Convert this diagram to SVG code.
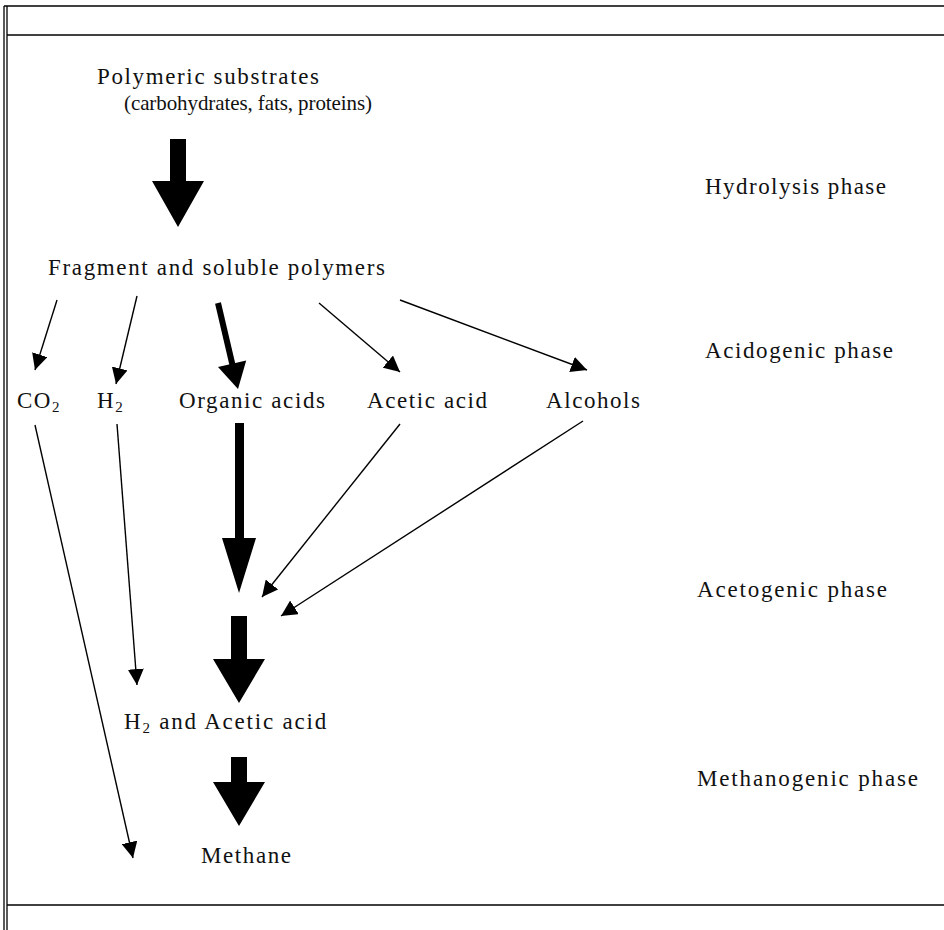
<svg xmlns="http://www.w3.org/2000/svg" width="944" height="930" viewBox="0 0 944 930">
<style>
text{font-family:"Liberation Serif","Times New Roman",serif;font-size:23px;fill:#111}
.sub{font-size:15px}
.frame{stroke:#000;stroke-width:1.3;fill:none}
.thin{stroke:#000;stroke-width:1.4;fill:none}
.block{fill:#000}
</style>
<defs>
<marker id="ah" markerUnits="userSpaceOnUse" viewBox="0 0 16 16" refX="16" refY="8" markerWidth="16" markerHeight="16" orient="auto">
<path d="M0,0 L16,8 L0,16 Z" fill="#000"/>
</marker>
</defs>
<g id="frame" class="frame">
<line x1="4" y1="6" x2="4" y2="930"/>
<line x1="7" y1="6" x2="7" y2="930"/>
<line x1="4" y1="6" x2="944" y2="6"/>
<line x1="7" y1="35" x2="944" y2="35"/>
<line x1="7" y1="905" x2="944" y2="905"/>
</g>
<g id="connectors">
<polygon class="block" points="170,139 186,139 186,181 204,181 178,227 152,181 170,181"/>
<line class="thin" x1="57" y1="300" x2="35" y2="370" marker-end="url(#ah)"/>
<line class="thin" x1="137" y1="296" x2="116" y2="384" marker-end="url(#ah)"/>
<line x1="218" y1="303" x2="232.5" y2="365" stroke="#000" stroke-width="6"/>
<polygon class="block" points="246.2,360.4 238,389 218,367"/>
<line class="thin" x1="319" y1="303" x2="400" y2="372" marker-end="url(#ah)"/>
<line class="thin" x1="400" y1="300" x2="587" y2="370" marker-end="url(#ah)"/>
<line class="thin" x1="35" y1="425" x2="133" y2="858" marker-end="url(#ah)"/>
<line class="thin" x1="117" y1="424" x2="137" y2="685" marker-end="url(#ah)"/>
<polygon class="block" points="235,423 244,423 244,538 256,538 239,593 222,538 235,538"/>
<line class="thin" x1="400" y1="424" x2="262" y2="597" marker-end="url(#ah)"/>
<line class="thin" x1="583" y1="421" x2="281" y2="616" marker-end="url(#ah)"/>
<polygon class="block" points="231,616 247,616 247,659 265,659 239,703 213,659 231,659"/>
<polygon class="block" points="231,757 247,757 247,782 265,782 239,826 213,782 231,782"/>
</g>
<g id="node-polymeric">
<text x="97" y="84" textLength="222" lengthAdjust="spacing">Polymeric substrates</text>
<text x="124" y="110" style="font-size:21px" textLength="248" lengthAdjust="spacing">(carbohydrates, fats, proteins)</text>
</g>
<g id="node-fragment"><text x="48" y="275" textLength="337" lengthAdjust="spacing">Fragment and soluble polymers</text></g>
<g id="node-co2"><text x="17" y="408" letter-spacing="1.5">CO<tspan class="sub" dy="4">2</tspan></text></g>
<g id="node-h2"><text x="97" y="408" letter-spacing="1.5">H<tspan class="sub" dy="4">2</tspan></text></g>
<g id="node-organic"><text x="179" y="408" textLength="146" lengthAdjust="spacing">Organic acids</text></g>
<g id="node-acetic"><text x="367" y="408" textLength="120" lengthAdjust="spacing">Acetic acid</text></g>
<g id="node-alcohols"><text x="546" y="408" textLength="94" lengthAdjust="spacing">Alcohols</text></g>
<g id="node-h2acetic"><text x="124" y="729" letter-spacing="1.8">H<tspan class="sub" dy="4">2</tspan><tspan dy="-4"> and Acetic acid</tspan></text></g>
<g id="node-methane"><text x="201" y="863" textLength="90" lengthAdjust="spacing">Methane</text></g>
<g id="phase-hydrolysis"><text x="705" y="194" textLength="181" lengthAdjust="spacing">Hydrolysis phase</text></g>
<g id="phase-acidogenic"><text x="705" y="358" textLength="188" lengthAdjust="spacing">Acidogenic phase</text></g>
<g id="phase-acetogenic"><text x="697" y="597" textLength="190" lengthAdjust="spacing">Acetogenic phase</text></g>
<g id="phase-methanogenic"><text x="697" y="786" textLength="221" lengthAdjust="spacing">Methanogenic phase</text></g>
</svg>
